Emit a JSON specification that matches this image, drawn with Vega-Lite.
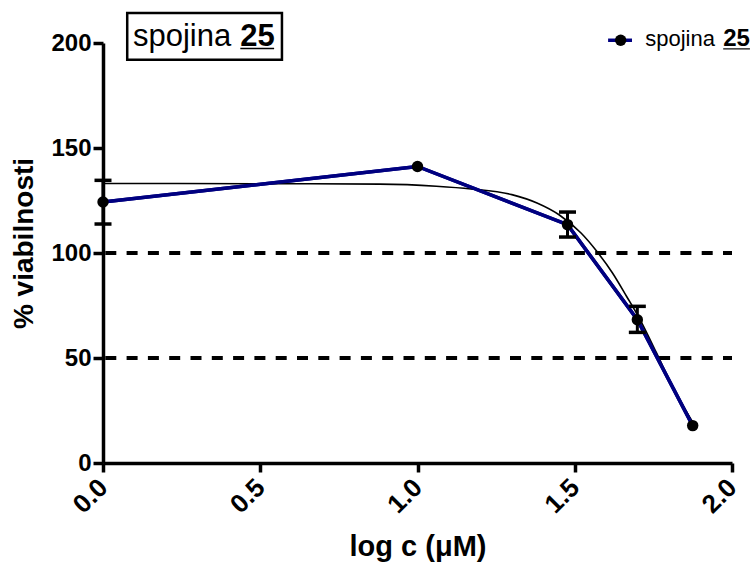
{
  "$schema": "https://vega.github.io/schema/vega-lite/v6.json",
  "width": 629,
  "height": 420,
  "autosize": "none",
  "padding": {"left": 103, "top": 43, "right": 21, "bottom": 99},
  "background": "white",
  "config": {
    "view": {"stroke": null},
    "font": "Liberation Sans",
    "axis": {
      "grid": false,
      "domainColor": "black",
      "domainWidth": 3.5,
      "tickColor": "black",
      "tickWidth": 3.5,
      "labelFont": "Liberation Sans",
      "labelFontWeight": "bold",
      "labelColor": "black",
      "labelFontSize": 24,
      "titleFont": "Liberation Sans",
      "titleFontWeight": "bold",
      "titleColor": "black",
      "titleFontSize": 28
    }
  },
  "datasets": {
    "measured": [
      {"x": 0, "y": 124.3, "lo": 113.8, "hi": 134.6},
      {"x": 1, "y": 141.2, "lo": null, "hi": null},
      {"x": 1.477, "y": 113.5, "lo": 107.6, "hi": 119.5},
      {"x": 1.699, "y": 68.2, "lo": 62.2, "hi": 74.6},
      {"x": 1.875, "y": 17.8, "lo": null, "hi": null}
    ],
    "fit": [
      {"x": 0, "y": 133.1},
      {"x": 0.5, "y": 133.0},
      {"x": 0.88, "y": 132.8},
      {"x": 1.06, "y": 131.8},
      {"x": 1.17, "y": 130.5},
      {"x": 1.3, "y": 127.8},
      {"x": 1.38, "y": 123.8},
      {"x": 1.45, "y": 118.2},
      {"x": 1.52, "y": 109.5},
      {"x": 1.57, "y": 100.8},
      {"x": 1.62, "y": 90.5},
      {"x": 1.665, "y": 79.3},
      {"x": 1.708, "y": 68.2},
      {"x": 1.76, "y": 52.4},
      {"x": 1.81, "y": 36.5},
      {"x": 1.877, "y": 19}
    ]
  },
  "layer": [
    {
      "data": {"name": "measured"},
      "mark": {"type": "line", "color": "#000080", "strokeWidth": 3.5},
      "encoding": {
        "x": {
          "field": "x", "type": "quantitative",
          "scale": {"domain": [0, 2], "nice": false, "zero": false},
          "axis": {
            "title": "log c (μM)",
            "values": [0, 0.5, 1, 1.5, 2],
            "format": ".1f",
            "labelAngle": -45,
            "labelAlign": "right",
            "labelBaseline": "middle",
            "labelFontSize": 26,
            "tickSize": 9,
            "labelPadding": 11,
            "titleFontSize": 29,
            "titleBaseline": "alphabetic",
            "titleY": 92,
            "labelFlush": false,
            "labelOverlap": false
          }
        },
        "y": {
          "field": "y", "type": "quantitative",
          "scale": {"domain": [0, 200], "nice": false},
          "axis": {
            "title": "% viabilnosti",
            "values": [0, 50, 100, 150, 200],
            "tickSize": 10,
            "labelPadding": 2,
            "titlePadding": 12,
            "titleY": 200,
            "labelFlush": false,
            "labelOverlap": false
          }
        }
      }
    },
    {
      "data": {"values": [{"ref": 100}, {"ref": 50}]},
      "mark": {"type": "rule", "color": "black", "strokeWidth": 4, "strokeDash": [11, 10.3], "strokeDashOffset": 2},
      "encoding": {"y": {"field": "ref", "type": "quantitative", "title": "% viabilnosti"}}
    },
    {
      "data": {"name": "fit"},
      "mark": {"type": "line", "color": "black", "strokeWidth": 1.6, "interpolate": "monotone"},
      "encoding": {
        "x": {"field": "x", "type": "quantitative", "title": "log c (μM)"},
        "y": {"field": "y", "type": "quantitative", "title": "% viabilnosti"}
      }
    },
    {
      "data": {"name": "measured"},
      "mark": {"type": "line", "color": "#000080", "strokeWidth": 3.5},
      "encoding": {
        "x": {"field": "x", "type": "quantitative", "title": "log c (μM)"},
        "y": {"field": "y", "type": "quantitative", "title": "% viabilnosti"}
      }
    },
    {
      "data": {"name": "measured"},
      "transform": [{"filter": "datum.lo != null"}],
      "mark": {"type": "rule", "color": "black", "strokeWidth": 3},
      "encoding": {
        "x": {"field": "x", "type": "quantitative", "title": "log c (μM)"},
        "y": {"field": "lo", "type": "quantitative", "title": "% viabilnosti"},
        "y2": {"field": "hi"}
      }
    },
    {
      "data": {"name": "measured"},
      "transform": [{"filter": "datum.lo != null"}],
      "mark": {"type": "tick", "orient": "horizontal", "color": "black", "size": 17, "thickness": 3.5, "opacity": 1},
      "encoding": {
        "x": {"field": "x", "type": "quantitative", "title": "log c (μM)"},
        "y": {"field": "lo", "type": "quantitative", "title": "% viabilnosti"}
      }
    },
    {
      "data": {"name": "measured"},
      "transform": [{"filter": "datum.hi != null"}],
      "mark": {"type": "tick", "orient": "horizontal", "color": "black", "size": 17, "thickness": 3.5, "opacity": 1},
      "encoding": {
        "x": {"field": "x", "type": "quantitative", "title": "log c (μM)"},
        "y": {"field": "hi", "type": "quantitative", "title": "% viabilnosti"}
      }
    },
    {
      "data": {"name": "measured"},
      "mark": {"type": "point", "filled": true, "color": "black", "size": 130, "opacity": 1},
      "encoding": {
        "x": {"field": "x", "type": "quantitative", "title": "log c (μM)"},
        "y": {"field": "y", "type": "quantitative", "title": "% viabilnosti"}
      }
    },
    {
      "data": {"values": [{}]},
      "mark": {"type": "rect", "fill": "white", "stroke": "black", "strokeWidth": 2.5},
      "encoding": {
        "x": {"datum": 0.077}, "x2": {"datum": 0.569},
        "y": {"datum": 192}, "y2": {"datum": 214.3}
      }
    },
    {
      "data": {"values": [{}]},
      "mark": {"type": "text", "align": "left", "baseline": "alphabetic", "fontSize": 31, "font": "Liberation Sans", "color": "black"},
      "encoding": {
        "x": {"datum": 0.0954}, "y": {"datum": 198.4},
        "text": {"value": "spojina"}
      }
    },
    {
      "data": {"values": [{}]},
      "mark": {"type": "text", "align": "left", "baseline": "alphabetic", "fontSize": 31, "fontWeight": "bold", "font": "Liberation Sans", "color": "black"},
      "encoding": {
        "x": {"datum": 0.4366}, "y": {"datum": 198.4},
        "text": {"value": "25"}
      }
    },
    {
      "data": {"values": [{}]},
      "mark": {"type": "rule", "color": "black", "strokeWidth": 1.5},
      "encoding": {
        "x": {"datum": 0.4366}, "x2": {"datum": 0.5441},
        "y": {"datum": 197.4}
      }
    },
    {
      "data": {"values": [{}]},
      "mark": {"type": "rule", "color": "#000080", "strokeWidth": 3.5},
      "encoding": {
        "x": {"datum": 1.606}, "x2": {"datum": 1.682},
        "y": {"datum": 201.3}
      }
    },
    {
      "data": {"values": [{}]},
      "mark": {"type": "point", "filled": true, "color": "black", "size": 130, "opacity": 1},
      "encoding": {
        "x": {"datum": 1.646}, "y": {"datum": 201.3}
      }
    },
    {
      "data": {"values": [{}]},
      "mark": {"type": "text", "align": "left", "baseline": "alphabetic", "fontSize": 22, "font": "Liberation Sans", "color": "black"},
      "encoding": {
        "x": {"datum": 1.724}, "y": {"datum": 198.4},
        "text": {"value": "spojina"}
      }
    },
    {
      "data": {"values": [{}]},
      "mark": {"type": "text", "align": "left", "baseline": "alphabetic", "fontSize": 24, "fontWeight": "bold", "font": "Liberation Sans", "color": "black"},
      "encoding": {
        "x": {"datum": 1.972}, "y": {"datum": 198.4},
        "text": {"value": "25"}
      }
    },
    {
      "data": {"values": [{}]},
      "mark": {"type": "rule", "color": "black", "strokeWidth": 1.2},
      "encoding": {
        "x": {"datum": 1.972}, "x2": {"datum": 2.057},
        "y": {"datum": 197.2}
      }
    }
  ]
}
